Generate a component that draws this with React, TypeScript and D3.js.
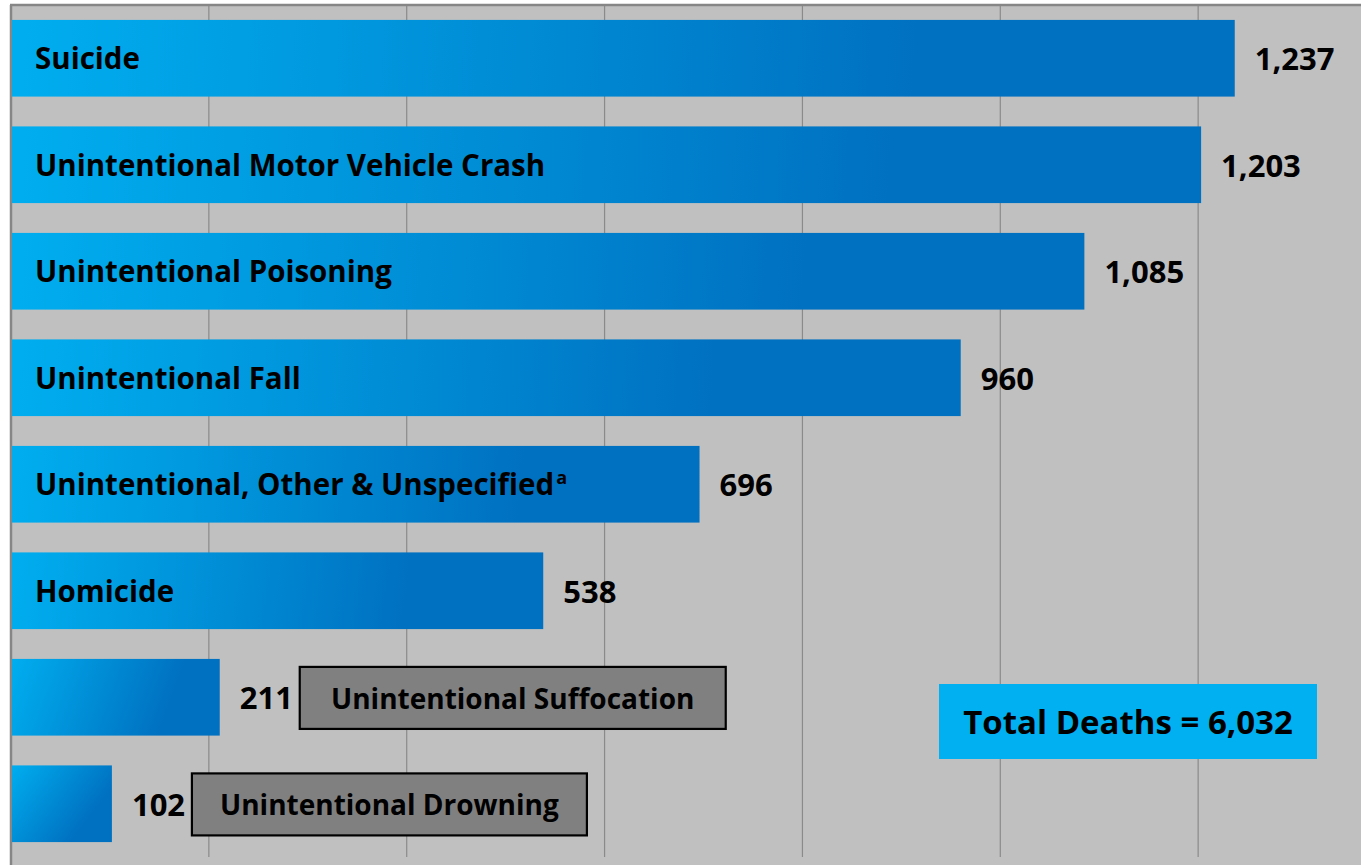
import React from 'react';
import * as d3 from 'd3';

const WIDTH = 1361;
const HEIGHT = 865;

const PLOT = { left: 11, top: 5, right: 1396, bottom: 857 };

const categories = [
  'Suicide',
  'Unintentional Motor Vehicle Crash',
  'Unintentional Poisoning',
  'Unintentional Fall',
  'Unintentional, Other & Unspecified',
  'Homicide',
  'Unintentional Suffocation',
  'Unintentional Drowning',
];
const values = [1237, 1203, 1085, 960, 696, 538, 211, 102];
// false = category goes in a grey box after the value instead of inside the bar
const insideLabel = [true, true, true, true, true, true, false, false];
const superscripts = ['', '', '', '', 'a', '', '', ''];
const gridTicks = [200, 400, 600, 800, 1000, 1200];
const totalLabel = 'Total Deaths = 6,032';

const FONT = '"Open Sans", Lato, sans-serif';

export default function App() {
  const x = d3.scaleLinear().domain([0, 1400]).range([PLOT.left, PLOT.right]);
  const y = d3.scaleBand<number>()
    .domain(d3.range(categories.length))
    .range([PLOT.top, PLOT.bottom])
    .paddingInner(0.28)
    .paddingOuter(0.14);
  const fmt = d3.format(',');

  return (
    <svg width={WIDTH} height={HEIGHT} viewBox={`0 0 ${WIDTH} ${HEIGHT}`}
      style={{ position: 'absolute', left: 0, top: 0, display: 'block', background: '#fff' }}>
      <defs>
        {values.map((v, i) => {
          const by = y(i)!;
          return (
            <linearGradient key={i} id={'barGrad' + i} gradientUnits="userSpaceOnUse"
              x1={x(0)} y1={by} x2={x(v)} y2={by + y.bandwidth()}>
              <stop offset="0" stopColor="#00AEEF" />
              <stop offset="0.75" stopColor="#0070C0" />
              <stop offset="1" stopColor="#0070C0" />
            </linearGradient>
          );
        })}
      </defs>
      <rect x={PLOT.left} y={PLOT.top} width={WIDTH - PLOT.left} height={HEIGHT - PLOT.top} fill="#C0C0C0" />
      {gridTicks.map(t => (
        <line key={t} x1={x(t)} x2={x(t)} y1={PLOT.top} y2={PLOT.bottom} stroke="#8a8a8a" strokeWidth={1.2} />
      ))}
      <line x1={PLOT.left - 1} x2={WIDTH} y1={PLOT.top} y2={PLOT.top} stroke="#868686" strokeWidth={2.5} />
      <line x1={PLOT.left} x2={PLOT.left} y1={PLOT.top} y2={HEIGHT} stroke="#868686" strokeWidth={2.5} />

      {values.map((v, i) => {
        const by = y(i)!;
        const bh = y.bandwidth();
        const cy = by + bh / 2;
        const end = x(v);
        return (
          <g key={categories[i]}>
            <rect x={x(0) + 1} y={by} width={end - x(0) - 1} height={bh} fill={`url(#barGrad${i})`} />
            {insideLabel[i] && (
              <text x={x(0) + 24} y={cy} dy="0.38em" fontFamily={FONT} fontWeight={700} fontSize={29.5}
                fill="#000">
                {categories[i]}
                {superscripts[i] && (
                  <tspan fontSize={18} dx={2} dy="-0.65em">{superscripts[i]}</tspan>
                )}
              </text>
            )}
            <text x={end + 20} y={cy} dy="0.38em" fontFamily={FONT} fontWeight={700} fontSize={31}
              fill="#000">
              {fmt(v)}
            </text>
          </g>
        );
      })}

      {values.map((v, i) => {
        if (insideLabel[i]) return null;
        const by = y(i)!;
        const bx = x(v) + 80;
        const boxW = i === 6 ? 426 : 395;
        const boxY = by + 8;
        const boxH = 62;
        return (
          <g key={'box' + i}>
            <rect x={bx} y={boxY} width={boxW} height={boxH} fill="#808080" stroke="#000" strokeWidth={2.2} />
            <text x={bx + boxW / 2} y={boxY + boxH / 2} dy="0.38em" textAnchor="middle"
              fontFamily={FONT} fontWeight={700} fontSize={28} fill="#000">
              {categories[i]}
            </text>
          </g>
        );
      })}

      <rect x={939} y={684} width={378} height={75} fill="#00B0F0" />
      <text x={939 + 189} y={684 + 37.5} dy="0.38em" textAnchor="middle"
        fontFamily={FONT} fontWeight={700} fontSize={33} fill="#000">
        {totalLabel}
      </text>
    </svg>
  );
}
